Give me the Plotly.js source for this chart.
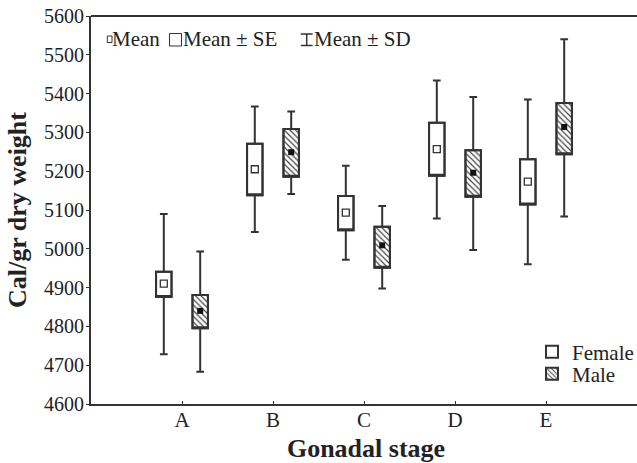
<!DOCTYPE html>
<html>
<head>
<meta charset="utf-8">
<script src="https://cdn.plot.ly/plotly-3.0.1.min.js"></script>
<style>html,body{margin:0;padding:0;background:#fff;overflow:hidden;}#chart{width:641px;height:463px;}</style>
</head>
<body>
<div id="chart"></div>
<script>
const categories = ['A', 'B', 'C', 'D', 'E'];
const positions = [1, 2, 3, 4, 5];

const femaleMean   = [4910, 5205, 5093, 5257, 5173];
const femaleSELow  = [4876, 5138, 5048, 5188, 5114];
const femaleSEHigh = [4941, 5271, 5136, 5325, 5231];
const femaleSDLow  = [4728, 5043, 4972, 5078, 4960];
const femaleSDHigh = [5090, 5367, 5214, 5434, 5385];

const maleMean   = [4840, 5249, 5009, 5196, 5314];
const maleSELow  = [4795, 5186, 4951, 5134, 5244];
const maleSEHigh = [4881, 5309, 5057, 5254, 5376];
const maleSDLow  = [4683, 5141, 4898, 4997, 5083];
const maleSDHigh = [4993, 5354, 5110, 5391, 5540];

const yTicks = [4600, 4700, 4800, 4900, 5000, 5100, 5200, 5300, 5400, 5500, 5600];

const LINE = '#333333';
const TXT = '#222222';
const FONT = 'Liberation Serif';
const LEGFONT = "Liberation Serif, Times New Roman, serif";
const BOXW = 0.17;      // box width (axis units)
const SHIFT = 0.2;      // female left / male right of the category

const femaleX = positions.map(p => p - SHIFT);
const maleX = positions.map(p => p + SHIFT);
function span(lo, hi) { return hi.map((h, i) => h - lo[i]); }

const traces = [
  {type: 'bar', name: 'Female', legend: 'legend', x: femaleX, base: femaleSELow, y: span(femaleSELow, femaleSEHigh),
   width: BOXW, marker: {color: '#ffffff', line: {color: LINE, width: 2}}, hoverinfo: 'skip'},
  {type: 'bar', name: 'Male', legend: 'legend2', x: maleX, base: maleSELow, y: span(maleSELow, maleSEHigh),
   width: BOXW, hoverinfo: 'skip',
   marker: {color: '#ffffff', line: {color: LINE, width: 2},
            pattern: {shape: '\\', fgcolor: '#444444', bgcolor: '#ffffff', size: 4, solidity: 0.3}}},
  {type: 'box', x: femaleX, q1: femaleSELow, median: femaleSELow, q3: femaleSEHigh,
   lowerfence: femaleSDLow, upperfence: femaleSDHigh, width: BOXW, whiskerwidth: 0.5,
   fillcolor: 'rgba(0,0,0,0)', line: {color: LINE, width: 2}, boxpoints: false,
   showlegend: false, hoverinfo: 'skip'},
  {type: 'box', x: maleX, q1: maleSELow, median: maleSELow, q3: maleSEHigh,
   lowerfence: maleSDLow, upperfence: maleSDHigh, width: BOXW, whiskerwidth: 0.5,
   fillcolor: 'rgba(0,0,0,0)', line: {color: LINE, width: 2}, boxpoints: false,
   showlegend: false, hoverinfo: 'skip'},
  {type: 'scatter', mode: 'markers', x: femaleX, y: femaleMean,
   marker: {symbol: 'square', size: 7, color: '#ffffff', line: {color: LINE, width: 1.3}},
   showlegend: false, hoverinfo: 'skip'},
  {type: 'scatter', mode: 'markers', x: maleX, y: maleMean,
   marker: {symbol: 'square', size: 6, color: '#111111', line: {width: 0}},
   showlegend: false, hoverinfo: 'skip'}
];

// frame top line and key decorations (paper coordinates)
const keyShapes = [
  {type: 'line', xref: 'paper', yref: 'paper', x0: 0, x1: 1, y0: 1, y1: 1, line: {color: LINE, width: 2}},
  {type: 'rect', xref: 'paper', yref: 'paper', x0: 0.02964, x1: 0.03818, y0: 0.9317, y1: 0.9485,
   line: {color: LINE, width: 1}, fillcolor: '#ffffff'},
  {type: 'rect', xref: 'paper', yref: 'paper', x0: 0.14273, x1: 0.16455, y0: 0.9227, y1: 0.9549,
   line: {color: LINE, width: 1}, fillcolor: '#ffffff'},
  {type: 'line', xref: 'paper', yref: 'paper', x0: 0.39218, x1: 0.39218, y0: 0.924, y1: 0.9536,
   line: {color: LINE, width: 1.5}},
  {type: 'line', xref: 'paper', yref: 'paper', x0: 0.38145, x1: 0.40291, y0: 0.9536, y1: 0.9536,
   line: {color: LINE, width: 1.5}},
  {type: 'line', xref: 'paper', yref: 'paper', x0: 0.38145, x1: 0.40291, y0: 0.924, y1: 0.924,
   line: {color: LINE, width: 1.5}},
  {type: 'rect', xref: 'paper', yref: 'paper', x0: 0.82818, x1: 0.83727, y0: 0.12758, y1: 0.14046,
   line: {color: LINE, width: 1}, fillcolor: '#ffffff'},
  {type: 'rect', xref: 'paper', yref: 'paper', x0: 0.82818, x1: 0.83727, y0: 0.0683, y1: 0.08119,
   line: {width: 0}, fillcolor: '#111111'}
];

const keyText = (x, t) => ({xref: 'paper', yref: 'paper', x: x, y: 0.9407, xanchor: 'left', yanchor: 'middle',
  showarrow: false, borderpad: 0, font: {family: FONT, size: 21, color: TXT}, text: t});

const layout = {
  width: 641, height: 463,
  margin: {l: 91, r: 0, t: 16, b: 59},
  paper_bgcolor: '#ffffff', plot_bgcolor: '#ffffff',
  font: {family: FONT, color: TXT, size: 20},
  barmode: 'overlay', boxmode: 'overlay',
  xaxis: {
    range: [0, 6.044], tickvals: positions, ticktext: categories,
    showgrid: false, zeroline: false, showline: true, linecolor: LINE, linewidth: 2,
    mirror: false, ticks: 'inside', ticklen: 3, tickcolor: LINE, tickwidth: 1,
    ticklabelstandoff: -4,
    tickfont: {family: FONT, size: 21, color: TXT},
    title: {text: 'Gonadal stage', font: {family: FONT, size: 26, color: TXT, weight: 'bold'}, standoff: 16}
  },
  yaxis: {
    range: [4600, 5600], tickvals: yTicks,
    showgrid: false, zeroline: false, showline: true, linecolor: LINE, linewidth: 2,
    mirror: false, ticks: 'outside', ticklen: 3, tickcolor: LINE, tickwidth: 1,
    ticklabelstandoff: -2,
    tickfont: {family: FONT, size: 20, color: TXT},
    title: {text: 'Cal/gr dry weight', font: {family: FONT, size: 26, color: TXT, weight: 'bold'}, standoff: 10}
  },
  showlegend: true,
  legend: {x: 0.8018, xanchor: 'left', y: 0.134, yanchor: 'middle', bgcolor: 'rgba(0,0,0,0)',
           font: {family: LEGFONT, size: 21, color: TXT}},
  legend2: {x: 0.8018, xanchor: 'left', y: 0.0773, yanchor: 'middle', bgcolor: 'rgba(0,0,0,0)',
           font: {family: LEGFONT, size: 21, color: TXT}},
  shapes: keyShapes,
  annotations: [
    keyText(0.03618, 'Mean'),
    keyText(0.16618, 'Mean \u00B1 SE'),
    keyText(0.40436, 'Mean \u00B1 SD')
  ]
};

Plotly.newPlot('chart', traces, layout, {displayModeBar: false, staticPlot: true});
</script>
</body>
</html>
